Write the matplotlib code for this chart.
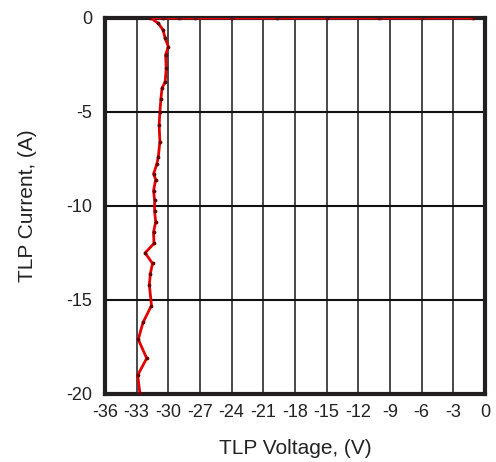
import numpy as np
from matplotlib import pyplot as plt

plt.rcParams['font.family'] = ['Liberation Sans', 'DejaVu Sans']

# TLP curve (voltage V, current A)
voltage = [-1.1, -6.0, -10.0, -15.0, -19.7, -24.0, -27.5, -29.0, -30.5, -31.7,
           -30.95, -30.5, -30.3, -30.0, -30.26, -30.2, -30.3, -30.6, -30.7, -30.8,
           -30.87, -30.8, -30.95, -31.1, -31.4, -31.2, -31.4, -31.3, -31.3, -31.2,
           -31.4, -31.36, -32.2, -31.5, -31.7, -31.8, -31.6, -32.4, -32.85, -32.05,
           -32.9, -32.7]
current = [-0.02, -0.02, -0.02, -0.02, -0.02, -0.02, -0.02, -0.02, -0.02, 0.0,
           -0.3, -0.65, -1.1, -1.54, -1.98, -2.7, -3.4, -3.75, -4.3, -5.0,
           -5.7, -6.6, -7.4, -7.8, -8.3, -8.6, -9.2, -9.7, -10.3, -10.85,
           -11.4, -12.0, -12.5, -13.06, -13.6, -14.2, -15.3, -16.2, -17.1, -18.1,
           -19.0, -19.95]

x_ticks = np.arange(-36, 1, 3)
y_ticks = np.arange(-20, 1, 5)

fig = plt.figure(figsize=(4.96, 4.62), dpi=100)
ax = fig.add_axes([0.2117, 0.1472, 0.7661, 0.8145])

for xv in x_ticks:
    ax.axvline(xv, color='#3a3a3a', lw=1.3, zorder=1)
for yv in y_ticks:
    ax.axhline(yv, color='#111111', lw=1.5, zorder=1)

ax.plot(voltage, current, c='#e00000', lw=2.0, zorder=3)
ax.scatter(voltage, current, c='#6a0000', s=3, zorder=4)

ax.set_xlim(-36, 0)
ax.set_ylim(-20, 0)
ax.set_xticks(x_ticks)
ax.set_yticks(y_ticks)
ax.set_xticklabels([str(v) for v in x_ticks])
ax.set_yticklabels([str(v) for v in y_ticks])
ax.tick_params(length=0, labelsize=13, colors='#222222')
ax.tick_params(axis='x', pad=7)
ax.tick_params(axis='y', pad=9)
for s in ax.spines.values():
    s.set_linewidth(3)
    s.set_color('#231f20')

ax.set_xlabel('TLP Voltage, (V)', fontsize=15, color='#222222', va='center')
ax.xaxis.set_label_coords(0.5, -0.144)
ax.set_ylabel('TLP Current, (A)', fontsize=15, color='#222222', va='center')
ax.yaxis.set_label_coords(-0.205, 0.5)

fig.savefig('out.png', dpi=100)
